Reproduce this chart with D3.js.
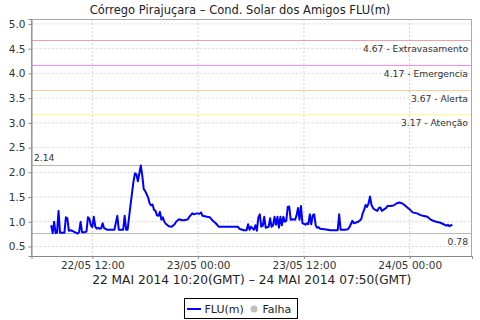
<!DOCTYPE html>
<html>
<head>
<meta charset="utf-8">
<script src="https://cdn.jsdelivr.net/npm/d3@7"></script>
<style>
  body { margin: 0; background: #fff; }
  svg { font-family: "DejaVu Sans", sans-serif; }
</style>
</head>
<body>
<svg id="chart" width="480" height="320"></svg>
<script>
// readings (local time on the axis, metres)
const times = [
  "2014-05-22 07:20","2014-05-22 07:30","2014-05-22 07:40","2014-05-22 07:50","2014-05-22 08:00",
  "2014-05-22 08:10","2014-05-22 08:20","2014-05-22 08:50","2014-05-22 09:00","2014-05-22 09:10",
  "2014-05-22 09:20","2014-05-22 09:30","2014-05-22 09:40","2014-05-22 10:00","2014-05-22 10:20",
  "2014-05-22 10:30","2014-05-22 10:40","2014-05-22 10:50","2014-05-22 11:10","2014-05-22 11:20",
  "2014-05-22 11:30","2014-05-22 11:40","2014-05-22 11:50","2014-05-22 12:00","2014-05-22 12:10",
  "2014-05-22 12:20","2014-05-22 12:30","2014-05-22 12:40","2014-05-22 12:50","2014-05-22 13:00",
  "2014-05-22 13:10","2014-05-22 13:20","2014-05-22 13:40","2014-05-22 14:00","2014-05-22 14:30",
  "2014-05-22 14:50","2014-05-22 15:00","2014-05-22 15:30","2014-05-22 15:40","2014-05-22 15:50",
  "2014-05-22 16:00","2014-05-22 16:20","2014-05-22 16:40","2014-05-22 16:50","2014-05-22 17:00",
  "2014-05-22 17:10","2014-05-22 17:30","2014-05-22 17:40","2014-05-22 17:50","2014-05-22 18:00",
  "2014-05-22 18:20","2014-05-22 18:30","2014-05-22 18:40","2014-05-22 18:50","2014-05-22 19:00",
  "2014-05-22 19:10","2014-05-22 19:20","2014-05-22 19:30","2014-05-22 19:40","2014-05-22 19:50",
  "2014-05-22 20:00","2014-05-22 20:10","2014-05-22 20:20","2014-05-22 20:40","2014-05-22 21:00",
  "2014-05-22 21:20","2014-05-22 21:30","2014-05-22 21:50","2014-05-22 22:10","2014-05-22 22:20",
  "2014-05-22 22:40","2014-05-22 22:50","2014-05-22 23:00","2014-05-22 23:20","2014-05-22 23:30",
  "2014-05-22 23:50","2014-05-23 00:10","2014-05-23 00:20","2014-05-23 00:30","2014-05-23 01:00",
  "2014-05-23 01:20","2014-05-23 01:40","2014-05-23 02:00","2014-05-23 02:20","2014-05-23 03:10",
  "2014-05-23 04:30","2014-05-23 04:40","2014-05-23 05:10","2014-05-23 05:30","2014-05-23 05:40",
  "2014-05-23 05:50","2014-05-23 06:00","2014-05-23 06:20","2014-05-23 06:30","2014-05-23 06:40",
  "2014-05-23 06:50","2014-05-23 07:00","2014-05-23 07:10","2014-05-23 07:20","2014-05-23 07:30",
  "2014-05-23 07:40","2014-05-23 08:00","2014-05-23 08:10","2014-05-23 08:20","2014-05-23 08:30",
  "2014-05-23 08:40","2014-05-23 08:50","2014-05-23 09:00","2014-05-23 09:10","2014-05-23 09:20",
  "2014-05-23 09:30","2014-05-23 09:40","2014-05-23 09:50","2014-05-23 10:00","2014-05-23 10:10",
  "2014-05-23 10:20","2014-05-23 10:30","2014-05-23 10:40","2014-05-23 11:00","2014-05-23 11:10",
  "2014-05-23 11:20","2014-05-23 11:30","2014-05-23 11:40","2014-05-23 11:50","2014-05-23 12:00",
  "2014-05-23 12:10","2014-05-23 12:20","2014-05-23 12:30","2014-05-23 12:40","2014-05-23 12:50",
  "2014-05-23 13:00","2014-05-23 13:10","2014-05-23 13:20","2014-05-23 13:30","2014-05-23 13:40",
  "2014-05-23 13:50","2014-05-23 14:20","2014-05-23 15:00","2014-05-23 15:50","2014-05-23 16:00",
  "2014-05-23 16:10","2014-05-23 16:40","2014-05-23 17:00","2014-05-23 17:10","2014-05-23 17:30",
  "2014-05-23 17:40","2014-05-23 17:50","2014-05-23 18:10","2014-05-23 18:30","2014-05-23 18:40",
  "2014-05-23 18:50","2014-05-23 19:00","2014-05-23 19:10","2014-05-23 19:20","2014-05-23 19:30",
  "2014-05-23 19:40","2014-05-23 19:50","2014-05-23 20:00","2014-05-23 20:20","2014-05-23 20:30",
  "2014-05-23 20:40","2014-05-23 20:50","2014-05-23 21:10","2014-05-23 21:20","2014-05-23 21:30",
  "2014-05-23 21:50","2014-05-23 22:10","2014-05-23 22:30","2014-05-23 22:50","2014-05-23 23:10",
  "2014-05-23 23:20","2014-05-23 23:40","2014-05-24 00:00","2014-05-24 00:20","2014-05-24 00:50",
  "2014-05-24 01:10","2014-05-24 01:30","2014-05-24 02:00","2014-05-24 02:20","2014-05-24 02:40",
  "2014-05-24 03:00","2014-05-24 03:30","2014-05-24 03:50","2014-05-24 04:10","2014-05-24 04:20",
  "2014-05-24 04:30","2014-05-24 04:50"
];
const levels = [
  0.93,0.77,1.00,0.77,0.78, 1.22,0.78,0.78,1.09,1.07, 0.82,0.83,0.82,0.79,0.76,
  0.79,1.00,0.79,0.79,0.80, 1.09,1.06,0.93,0.89,1.10, 0.90,0.86,0.88,0.86,0.87,
  0.97,0.87,0.84,0.84,0.84, 1.12,0.84,0.84,1.12,0.84, 0.84,1.34,1.81,1.98,1.96,
  1.82,2.14,1.93,1.66,1.62, 1.49,1.37,1.33,1.35,1.24, 1.22,1.13,1.12,1.20,1.04,
  1.09,1.00,0.96,0.91,0.90, 0.95,1.00,1.05,1.03,1.03, 1.04,1.05,1.10,1.17,1.15,
  1.17,1.16,1.19,1.12,1.10, 1.09,1.02,0.97,0.90,0.90, 0.90,0.86,0.83,0.83,0.95,
  0.84,0.90,0.84,0.93,0.82, 1.09,1.15,0.90,0.92,1.10, 0.88,0.90,1.07,0.90,0.93,
  1.10,0.94,1.10,0.88,1.10, 0.93,1.10,1.00,1.02,1.30, 1.31,1.04,1.05,1.04,1.13,
  1.28,1.04,1.32,0.97,0.96, 0.94,0.97,0.95,1.15,0.95, 1.13,1.15,0.93,0.88,0.89,
  0.86,0.85,0.83,0.83,1.15, 0.84,0.84,0.85,0.89,1.02, 0.97,0.98,1.00,1.05,1.17,
  1.24,1.34,1.30,1.37,1.51, 1.34,1.28,1.25,1.22,1.28, 1.29,1.22,1.26,1.28,1.32,
  1.32,1.33,1.37,1.39,1.37, 1.35,1.30,1.25,1.19,1.17, 1.14,1.12,1.10,1.05,1.02,
  1.00,0.98,0.95,0.92,0.94, 0.91,0.94
];
const yTicks = [0.5, 1.0, 1.5, 2.0, 2.5, 3.0, 3.5, 4.0, 4.5, 5.0];
const limitValues = [4.67, 4.17, 3.67, 3.17];
const limitNames = ["Extravasamento", "Emergencia", "Alerta", "Atenção"];
const limitColors = ["#f0a0a0", "#ff88ff", "#ffc896", "#ffff88"];
const maxLevel = 2.14, minLevel = 0.78;

const parse = d3.utcParse("%Y-%m-%d %H:%M");
const data = times.map((t, i) => ({ t: parse(t), v: levels[i] }));

const svg = d3.select("#chart");
const plotL = 31.5, plotR = 472, plotT = 19, plotB = 256;

const x = d3.scaleUtc()
  .domain([parse("2014-05-22 05:06"), parse("2014-05-24 07:04")])
  .range([plotL, plotR]);
const y = d3.scaleLinear().domain([0.308, 5.10]).range([plotB, plotT]);

// title
svg.append("text").attr("x", 240).attr("y", 14).attr("text-anchor", "middle")
  .attr("font-size", 11.5).attr("fill", "#222")
  .text("Córrego Pirajuçara – Cond. Solar dos Amigos FLU(m)");

// grid
const xTicks = x.ticks(d3.utcHour.every(12));
svg.append("g").selectAll("line").data(xTicks).join("line")
  .attr("x1", d => x(d)).attr("x2", d => x(d)).attr("y1", plotT).attr("y2", plotB)
  .attr("stroke", "#d4d4d4").attr("stroke-dasharray", "2,2");
svg.append("g").selectAll("line").data(yTicks).join("line")
  .attr("x1", plotL).attr("x2", plotR).attr("y1", d => y(d)).attr("y2", d => y(d))
  .attr("stroke", "#d4d4d4").attr("stroke-dasharray", "2,2");

// threshold lines
limitValues.forEach((v, i) => {
  svg.append("line").attr("x1", plotL).attr("x2", plotR)
    .attr("y1", Math.round(y(v)) + 0.5).attr("y2", Math.round(y(v)) + 0.5)
    .attr("stroke", limitColors[i]);
  svg.append("text").attr("x", 468).attr("y", y(v) + 12).attr("text-anchor", "end")
    .attr("font-size", 9.2).attr("fill", "#333")
    .text(d3.format(".2f")(v) + " - " + limitNames[i]);
});

// max / min lines
[maxLevel, minLevel].forEach(v => {
  svg.append("line").attr("x1", plotL).attr("x2", plotR)
    .attr("y1", Math.round(y(v)) + 0.5).attr("y2", Math.round(y(v)) + 0.5)
    .attr("stroke", "#b8b8b8");
});
svg.append("text").attr("x", 34).attr("y", y(maxLevel) - 4)
  .attr("font-size", 9.2).attr("fill", "#333")
  .text(d3.format(".2f")(maxLevel));
svg.append("text").attr("x", 468).attr("y", y(minLevel) + 12).attr("text-anchor", "end")
  .attr("font-size", 9.2).attr("fill", "#333")
  .text(d3.format(".2f")(minLevel));

// series
svg.append("path").datum(data)
  .attr("fill", "none").attr("stroke", "#0000ff").attr("stroke-width", 2)
  .attr("stroke-linejoin", "round")
  .attr("d", d3.line().x(d => x(d.t)).y(d => y(d.v)));

// border
svg.append("rect").attr("x", plotL).attr("y", plotT + 0.5)
  .attr("width", plotR - plotL - 0.5).attr("height", plotB - plotT)
  .attr("fill", "none").attr("stroke", "#a8a8a8");

// axes
const yAxis = svg.append("g").attr("transform", `translate(${plotL},0)`)
  .call(d3.axisLeft(y).tickValues(yTicks).tickFormat(d3.format(".1f")).tickSizeOuter(0).tickSize(3).tickPadding(3));
const xAxis = svg.append("g").attr("transform", `translate(0,${plotB})`)
  .call(d3.axisBottom(x).tickValues(xTicks).tickFormat(d3.utcFormat("%d/%m %H:%M")).tickSizeOuter(0).tickSize(3).tickPadding(3));
[yAxis, xAxis].forEach(a => {
  a.selectAll("path").attr("stroke", "#888");
  a.selectAll("line").attr("stroke", "#888");
  a.selectAll("text").attr("font-size", 10.5).attr("fill", "#333").attr("font-family", "DejaVu Sans");
});

// x-axis caption
svg.append("text").attr("x", (plotL + plotR) / 2).attr("y", 284).attr("text-anchor", "middle")
  .attr("font-size", 12.2).attr("fill", "#222")
  .text("22 MAI 2014 10:20(GMT) – 24 MAI 2014 07:50(GMT)");

// legend
const lg = svg.append("g");
lg.append("rect").attr("x", 184.5).attr("y", 298.5).attr("width", 113).attr("height", 20)
  .attr("fill", "#fff").attr("stroke", "#000");
lg.append("line").attr("x1", 187).attr("x2", 201).attr("y1", 309).attr("y2", 309)
  .attr("stroke", "#0000ff").attr("stroke-width", 2);
lg.append("text").attr("x", 204.5).attr("y", 313).attr("font-size", 11).attr("fill", "#222").text("FLU(m)");
lg.append("circle").attr("cx", 254).attr("cy", 309).attr("r", 3.5).attr("fill", "#c0c0c0");
lg.append("text").attr("x", 262.5).attr("y", 313).attr("font-size", 11).attr("fill", "#222").text("Falha");
</script>
</body>
</html>
